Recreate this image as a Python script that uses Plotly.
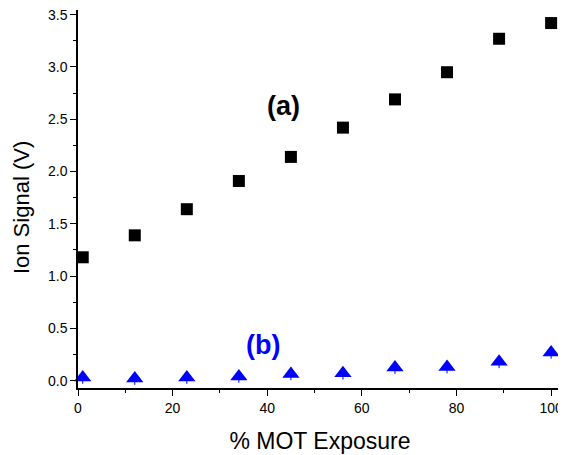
import plotly.graph_objects as go

exposure = [1, 12, 23, 34, 45, 56, 67, 78, 89, 100]
signal_a = [1.18, 1.39, 1.64, 1.91, 2.14, 2.42, 2.69, 2.95, 3.27, 3.42]
signal_b = [0.03, 0.02, 0.03, 0.04, 0.065, 0.07, 0.125, 0.13, 0.18, 0.27]
err_b = [0.06, 0.06, 0.06, 0.06, 0.06, 0.06, 0.06, 0.06, 0.06, 0.06]

fig = go.Figure()
fig.add_trace(go.Scatter(
    x=exposure, y=signal_b, mode="markers",
    marker=dict(symbol="triangle-up", size=15, color="#0000ff"),
    error_y=dict(type="data", array=err_b, color="#0000ff", thickness=1, width=0),
    showlegend=False, cliponaxis=False))
fig.add_trace(go.Scatter(
    x=exposure, y=signal_a, mode="markers",
    marker=dict(symbol="square", size=12, color="black"),
    showlegend=False, cliponaxis=False))

fig.add_annotation(x=43.5, y=2.63, text="<b>(a)</b>", showarrow=False,
                   font=dict(family="Liberation Sans, Arial", size=27, color="black"))
fig.add_annotation(x=39.0, y=0.34, text="<b>(b)</b>", showarrow=False,
                   font=dict(family="Liberation Sans, Arial", size=27, color="#0000ff"))
# y-axis title as a rotated annotation for exact placement
fig.add_annotation(xref="paper", yref="paper", x=0, y=0.476, xshift=-57,
                   xanchor="center", yanchor="middle",
                   text="Ion Signal (V)", textangle=-90, showarrow=False,
                   font=dict(family="Liberation Sans, Arial", size=22, color="black"))

# page body has a default 8px margin, so size the figure to compensate
fig.update_layout(
    width=558, height=447,
    margin=dict(l=70, r=4, t=2, b=67, autoexpand=False),
    plot_bgcolor="white", paper_bgcolor="white",
    font=dict(family="Liberation Sans, Arial", size=14, color="black"),
    xaxis=dict(range=[0, 102.3], tickvals=[0, 20, 40, 60, 80, 100],
               automargin=False, ticklabeloverflow="allow",
               showline=True, linecolor="black", linewidth=1.5,
               ticks="outside", ticklen=6, tickcolor="black", tickwidth=1,
               minor=dict(tickvals=[10, 30, 50, 70, 90], ticks="outside", ticklen=3, tickcolor="black"),
               showgrid=False, zeroline=False,
               title=dict(text="% MOT Exposure", font=dict(size=23), standoff=18)),
    yaxis=dict(range=[-0.07, 3.545], tickvals=[0, 0.5, 1, 1.5, 2, 2.5, 3, 3.5],
               tickformat=".1f", automargin=False, ticklabeloverflow="allow",
               showline=True, linecolor="black", linewidth=1.5,
               ticks="outside", ticklen=6, tickcolor="black", tickwidth=1,
               minor=dict(tickvals=[0.25, 0.75, 1.25, 1.75, 2.25, 2.75, 3.25], ticks="outside", ticklen=3, tickcolor="black"),
               showgrid=False, zeroline=False),
)

fig.write_html("out.html")
